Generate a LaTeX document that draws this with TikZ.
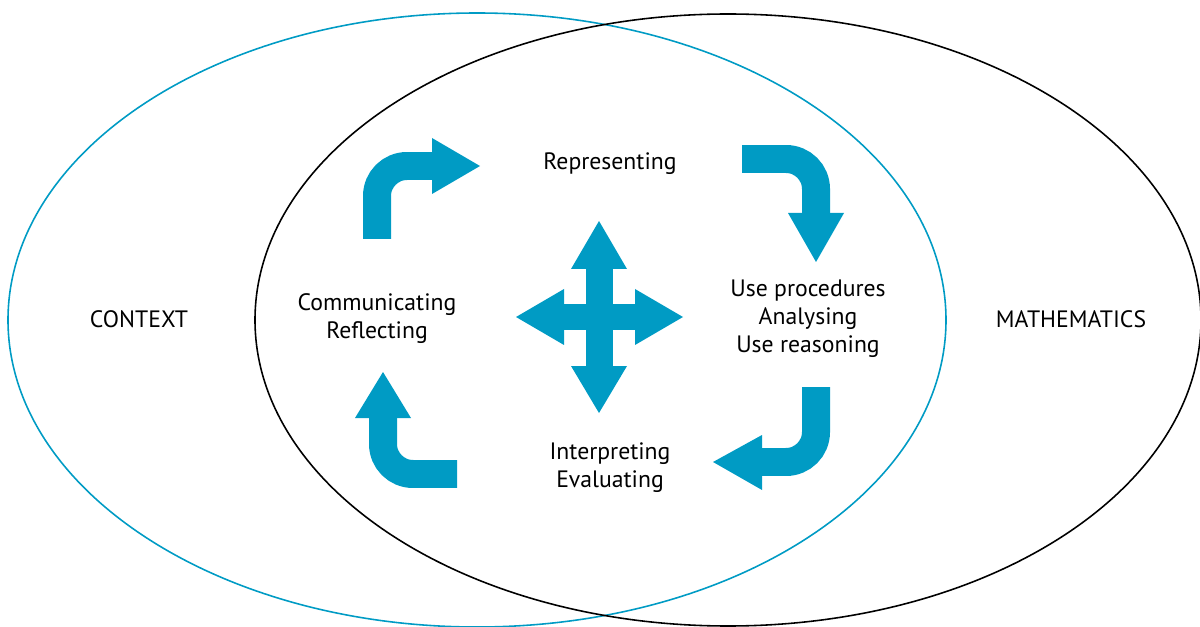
\documentclass[tikz,border=0pt]{standalone}
\usepackage{fontspec}
\setmainfont{PT Sans}
\usepackage{xcolor}
\definecolor{cycleblue}{RGB}{0,155,196}

\begin{document}
\begin{tikzpicture}[x=0.02cm,y=0.02cm,%
% common options for the labels:
lbl/.style = {align=center, inner sep=0, font=\fontsize{13.5}{16}\selectfont},
% common options for the bent arrows:
bentbody/.style = {draw=cycleblue, line width=0.56cm, rounded corners=0.6cm},
shaft/.style = {draw=cycleblue, line width=0.54cm},
head/.style = {fill=cycleblue}]
\useasboundingbox (0,0) rectangle (1200,626);
\clip (0,0) rectangle (1200,626);
% the two fields
\draw[cycleblue, line width=0.9pt] (477,306) ellipse [x radius=469, y radius=307];
\draw[black, line width=0.9pt] (728,306) ellipse [x radius=473, y radius=306];
\node[lbl] (ctx) at (139,307) {CONTEXT};
\node[lbl] (math) at (1071,307) {MATHEMATICS};
% the cycle
\node[lbl] (repr) at (610,462) {Representing};
\node[lbl] (proc) at (808,307) {Use procedures\\Analysing\\Use reasoning};
\node[lbl] (interp) at (610,158) {Interpreting\\Evaluating};
\node[lbl] (comm) at (377,307) {Communicating\\Reflecting};
% top left
\draw[bentbody] (377,387) -- (377,460) -- (432,460);
\fill[head] (432,488) -- (480,460) -- (432,432) -- cycle;
% top right
\draw[bentbody] (742,467) -- (816,467) -- (816,413);
\fill[head] (788,413) -- (816,364) -- (844,413) -- cycle;
% bottom right
\draw[bentbody] (816,239) -- (816,164) -- (762,164);
\fill[head] (762,191) -- (713,164) -- (762,136) -- cycle;
% bottom left
\draw[bentbody] (457,152) -- (383,152) -- (383,208);
\fill[head] (355,208) -- (383,254) -- (411,208) -- cycle;
% cross in the middle
\draw[shaft] (599,260) -- (599,357);
\draw[shaft] (564,309) -- (635,309);
\fill[head] (571,357) -- (599,405) -- (627,357) -- cycle;
\fill[head] (571,260) -- (599,213) -- (627,260) -- cycle;
\fill[head] (564,337) -- (516,309) -- (564,281) -- cycle;
\fill[head] (635,337) -- (683,309) -- (635,281) -- cycle;
\end{tikzpicture}
\end{document}
